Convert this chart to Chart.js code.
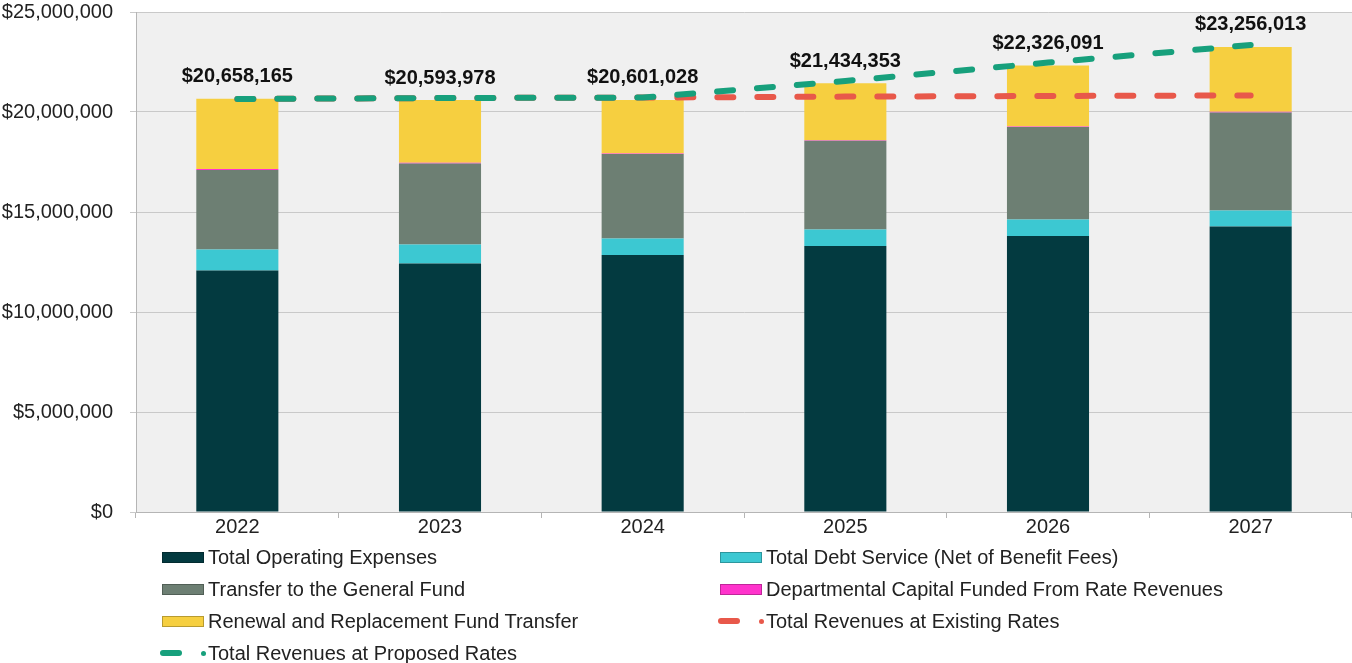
<!DOCTYPE html>
<html>
<head>
<meta charset="utf-8">
<script src="https://cdn.jsdelivr.net/npm/chart.js@4.4.1/dist/chart.umd.min.js"></script>
<style>
  body { margin: 0; background: #fff; }
  #wrap { position: relative; width: 1352px; height: 663px; overflow: hidden; }
  #chart { position: absolute; left: 0; top: 0; }
  .item { position: absolute; font: 20px "Liberation Sans", Arial, sans-serif; color: #222; white-space: nowrap; height: 20px; line-height: 20px; }
  .item span.txt { position: absolute; left: 46px; top: 0; }
  .box { position: absolute; left: 0; top: 5px; width: 40px; height: 9px; }
  .dash { position: absolute; left: -2px; top: 7px; width: 22px; height: 6px; border-radius: 3px; }
  .dot { position: absolute; left: 39px; top: 8px; width: 5px; height: 5px; border-radius: 3px; }
</style>
</head>
<body>
<div id="wrap">
  <canvas id="chart" width="1352" height="663"></canvas>
  <div id="legend"></div>
</div>
<script>
// categories
const years = ['2022', '2023', '2024', '2025', '2026', '2027'];

// stacked bar series ($)
const operating   = [12070000, 12430000, 12850000, 13300000, 13800000, 14270000];
const debtService = [1060000, 950000, 830000, 830000, 830000, 800000];
const generalFund = [3970000, 4050000, 4220000, 4430000, 4620000, 4910000];
const deptCapital = [50000, 30000, 20000, 30000, 30000, 30000];
const renewal     = [3508165, 3133978, 2681028, 2844353, 3046091, 3246013];

// total labels above bars
const totals = [20658165, 20593978, 20601028, 21434353, 22326091, 23256013];

// revenue lines ($)
const proposedRates = [20650000, 20700000, 20720000, 21550000, 22470000, 23350000];
const existingRates = [20650000, 20700000, 20720000, 20770000, 20800000, 20830000];

// y axis ticks
const yMax = 25000000;
const yStep = 5000000;

const colors = {
    operating: '#033a40',
    debt: '#3cc8d2',
    general: '#6d7f73',
    dept: '#ff33cc',
    renewal: '#f6cf40',
    existing: '#e8584a',
    proposed: '#17a07c'
};

const FONT = '"Liberation Sans", Arial, sans-serif';

function money(v) {
    return '$' + Number(v).toLocaleString('en-US');
}

// grey plot background
const plotBg = {
    id: 'plotBg',
    beforeDraw(chart) {
        const a = chart.chartArea;
        const ctx = chart.ctx;
        ctx.save();
        ctx.fillStyle = '#f0f0f0';
        ctx.fillRect(a.left, a.top, a.right - a.left, a.bottom - a.top);
        ctx.restore();
    }
};

// totals written above each stack
const totalLabels = {
    id: 'totalLabels',
    afterDatasetsDraw(chart) {
        const ctx = chart.ctx;
        const xs = chart.scales.x;
        const ys = chart.scales.y;
        ctx.save();
        ctx.font = 'bold 20px ' + FONT;
        ctx.fillStyle = '#111';
        ctx.textAlign = 'center';
        ctx.textBaseline = 'middle';
        years.forEach((y, i) => {
            const top = operating[i] + debtService[i] + generalFund[i] + deptCapital[i] + renewal[i];
            ctx.fillText(money(totals[i]), xs.getPixelForValue(i), ys.getPixelForValue(top) - 22);
        });
        ctx.restore();
    }
};

function barSet(label, data, color) {
    return {
        type: 'bar',
        label: label,
        data: data,
        backgroundColor: color,
        borderWidth: 0,
        stack: 'costs',
        order: 2,
        barPercentage: 0.405,
        categoryPercentage: 1.0
    };
}

function lineSet(label, data, color, stack, order) {
    return {
        type: 'line',
        label: label,
        data: data,
        borderColor: color,
        backgroundColor: color,
        borderWidth: 6,
        borderDash: [16, 24],
        borderCapStyle: 'round',
        pointRadius: 0,
        tension: 0,
        fill: false,
        stack: stack,
        order: order
    };
}

const ctx = document.getElementById('chart').getContext('2d');
const chart = new Chart(ctx, {
    data: {
        labels: years,
        datasets: [
            barSet('Total Operating Expenses', operating, colors.operating),
            barSet('Total Debt Service (Net of Benefit Fees)', debtService, colors.debt),
            barSet('Transfer to the General Fund', generalFund, colors.general),
            barSet('Departmental Capital Funded From Rate Revenues', deptCapital, colors.dept),
            barSet('Renewal and Replacement Fund Transfer', renewal, colors.renewal),
            lineSet('Total Revenues at Existing Rates', existingRates, colors.existing, 'existing', 1),
            lineSet('Total Revenues at Proposed Rates', proposedRates, colors.proposed, 'proposed', 0)
        ]
    },
    options: {
        responsive: false,
        animation: false,
        layout: { padding: { top: 12, right: 0, left: 0, bottom: 0 } },
        plugins: {
            legend: { display: false },
            tooltip: { enabled: false }
        },
        scales: {
            x: {
                stacked: true,
                offset: true,
                afterFit(scale) {
                    scale.height = 151;
                    scale.paddingLeft = 0;
                    scale.paddingRight = 0;
                },
                grid: { drawOnChartArea: false, drawTicks: true, tickLength: 6, color: '#b5b5b5', offset: true },
                border: { display: true, color: '#b5b5b5' },
                ticks: { color: '#222', font: { family: FONT, size: 20 }, padding: -3, maxRotation: 0 }
            },
            y: {
                stacked: true,
                min: 0,
                max: yMax,
                afterFit(scale) {
                    scale.width = 136;
                    scale.paddingTop = 0;
                    scale.paddingBottom = 0;
                },
                grid: { color: '#c9c9c9', tickLength: 6, drawTicks: true },
                border: { display: true, color: '#b5b5b5' },
                ticks: {
                    stepSize: yStep,
                    color: '#222',
                    padding: 17,
                    font: { family: FONT, size: 20 },
                    callback: v => money(v)
                }
            }
        }
    },
    plugins: [plotBg, totalLabels]
});

// two-column legend below the axis
const legendItems = [
    { text: 'Total Operating Expenses', kind: 'box', color: colors.operating, x: 162, y: 547 },
    { text: 'Total Debt Service (Net of Benefit Fees)', kind: 'box', color: colors.debt, x: 720, y: 547 },
    { text: 'Transfer to the General Fund', kind: 'box', color: colors.general, x: 162, y: 579 },
    { text: 'Departmental Capital Funded From Rate Revenues', kind: 'box', color: colors.dept, x: 720, y: 579 },
    { text: 'Renewal and Replacement Fund Transfer', kind: 'box', color: colors.renewal, x: 162, y: 611 },
    { text: 'Total Revenues at Existing Rates', kind: 'line', color: colors.existing, x: 720, y: 611 },
    { text: 'Total Revenues at Proposed Rates', kind: 'line', color: colors.proposed, x: 162, y: 643 }
];

const legend = document.getElementById('legend');
legendItems.forEach(it => {
    const el = document.createElement('div');
    el.className = 'item';
    el.style.left = it.x + 'px';
    el.style.top = it.y + 'px';
    if (it.kind === 'box') {
        el.innerHTML = '<div class="box" style="background:' + it.color + ';border:1px solid rgba(0,0,0,0.25)"></div>';
    } else {
        el.innerHTML = '<div class="dash" style="background:' + it.color + '"></div>' +
            '<div class="dot" style="background:' + it.color + '"></div>';
    }
    const t = document.createElement('span');
    t.className = 'txt';
    t.textContent = it.text;
    el.appendChild(t);
    legend.appendChild(el);
});
</script>
</body>
</html>
